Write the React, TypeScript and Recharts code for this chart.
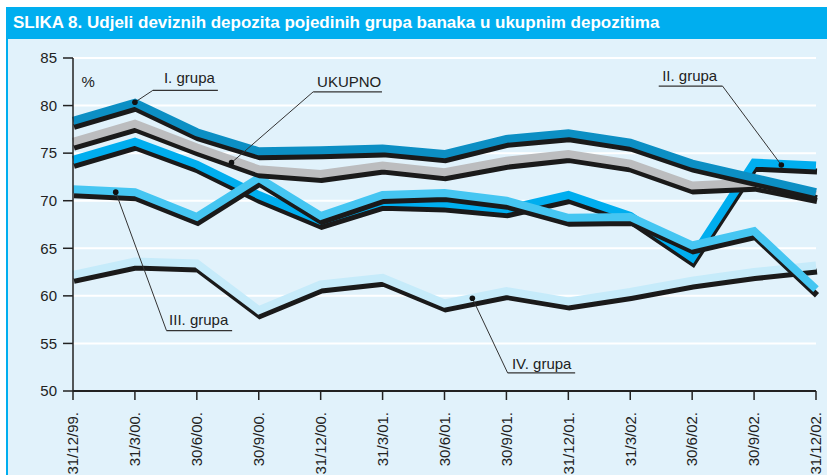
import { LineChart, Line, XAxis, YAxis, CartesianGrid, ReferenceDot, ReferenceLine } from "recharts";

const dates = ["31/12/99.", "31/3/00.", "30/6/00.", "30/9/00.", "31/12/00.", "31/3/01.", "30/6/01.", "30/9/01.", "31/12/01.", "31/3/02.", "30/6/02.", "30/9/02.", "31/12/02."];

const grupa1 = [78.4, 80.3, 77.2, 75.2, 75.3, 75.5, 74.9, 76.5, 77.1, 76.1, 73.9, 72.4, 70.9];
const ukupno = [76.2, 78.1, 75.6, 73.3, 72.8, 73.7, 73.0, 74.2, 74.9, 73.9, 71.6, 71.9, 70.6];
const grupa2 = [74.3, 76.2, 73.8, 70.6, 67.9, 69.9, 69.7, 69.1, 70.6, 68.4, 64.0, 74.0, 73.7];
const grupa3 = [71.2, 70.9, 68.3, 72.4, 68.4, 70.6, 70.8, 70.0, 68.2, 68.3, 65.3, 66.8, 60.7];
const grupa4 = [62.2, 63.6, 63.4, 58.5, 61.2, 61.9, 59.2, 60.5, 59.4, 60.4, 61.6, 62.5, 63.2];

const yTicks = [50, 55, 60, 65, 70, 75, 80, 85];
const xTicks = dates.map((_, i) => i);

// annotation callouts, in data coordinates (x = period index)
const notes = [
  { text: "I. grupa", dot: [1.0, 80.35], elbow: [1.29, 81.6], lineEnd: 2.34, label: [1.88, 82.9] },
  { text: "UKUPNO", dot: [2.56, 74.0], elbow: [3.88, 81.45], lineEnd: 4.99, label: [4.46, 82.55] },
  { text: "II. grupa", dot: [11.44, 73.75], elbow: [10.49, 82.05], lineEnd: 9.46, label: [9.96, 83.15] },
  { text: "III. grupa", dot: [0.69, 70.9], elbow: [1.51, 56.35], lineEnd: 2.57, label: [2.03, 57.5] },
  { text: "IV. grupa", dot: [6.45, 59.75], elbow: [7.02, 51.9], lineEnd: 8.11, label: [7.57, 52.85] },
];

const series = [
  { key: "g4", color: "#c6ebfa" },
  { key: "g2", color: "#00aeef" },
  { key: "g3", color: "#45c6f2" },
  { key: "uk", color: "#bcbdbf" },
  { key: "g1", color: "#0c8fc4" },
];

const data = dates.map((d, i) => ({
  i,
  g1: grupa1[i],
  uk: ukupno[i],
  g2: grupa2[i],
  g3: grupa3[i],
  g4: grupa4[i],
}));

const font = "'Liberation Sans', Arial, Helvetica, sans-serif";

function DateTick({ x, y, payload }: any) {
  return (
    <text
      x={x}
      y={y}
      transform={`rotate(-90 ${x} ${y})`}
      textAnchor="end"
      dy="0.35em"
      fontSize={15}
      fontFamily={font}
      fill="#222"
    >
      {dates[payload.value]}
    </text>
  );
}

export default function App() {
  return (
    <div style={{ position: "relative", width: 827, height: 475, background: "#fff", overflow: "hidden" }}>
      <style>{`body{margin:0} .shadow-line{transform:translate(1px,6px)}`}</style>
      <div style={{ position: "absolute", left: 6, top: 7, right: 0, bottom: 0, background: "#e1f2fb", borderLeft: "2px solid #00aeef" }} />
      <div
        style={{
          position: "absolute",
          left: 6,
          top: 7,
          right: 0,
          height: 32,
          background: "#00aeef",
          color: "#fff",
          fontFamily: "'Liberation Sans Narrow', 'Liberation Sans', Arial, sans-serif",
          fontWeight: "bold",
          fontSize: 17,
          lineHeight: "32px",
          paddingLeft: 7,
          whiteSpace: "nowrap",
        }}
      >
        SLIKA 8. Udjeli deviznih depozita pojedinih grupa banaka u ukupnim depozitima
      </div>
      <div style={{ position: "absolute", left: 0, top: 0 }}>
        <LineChart width={827} height={475} data={data} margin={{ top: 58, right: 11, bottom: 0, left: 13 }}>
          <CartesianGrid horizontal vertical={false} stroke="#ffffff" strokeWidth={2} />
          <XAxis
            type="number"
            dataKey="i"
            domain={[0, 12]}
            ticks={xTicks}
            interval={0}
            height={84}
            tickSize={9}
            tickMargin={12}
            tick={<DateTick />}
            axisLine={{ stroke: "#222", strokeWidth: 2 }}
            tickLine={{ stroke: "#222", strokeWidth: 1.5 }}
          />
          <YAxis
            domain={[50, 85]}
            ticks={yTicks}
            width={60}
            tickSize={10}
            tickMargin={6}
            tick={{ fontSize: 15, fill: "#222", fontFamily: font }}
            axisLine={{ stroke: "#222", strokeWidth: 1.5 }}
            tickLine={{ stroke: "#222", strokeWidth: 1.5 }}
          />
          {series.flatMap((s) => [
            <Line
              key={s.key + "-shadow"}
              className="shadow-line"
              dataKey={s.key}
              stroke="#1a1a1a"
              strokeWidth={6}
              dot={false}
              activeDot={false}
              isAnimationActive={false}
            />,
            <Line
              key={s.key}
              dataKey={s.key}
              stroke={s.color}
              strokeWidth={8}
              dot={false}
              activeDot={false}
              isAnimationActive={false}
            />,
          ])}
          {notes.flatMap((n) => [
            <ReferenceLine
              key={n.text + "-lead"}
              segment={[{ x: n.dot[0], y: n.dot[1] }, { x: n.elbow[0], y: n.elbow[1] }]}
              stroke="#333"
              strokeWidth={1}
            />,
            <ReferenceLine
              key={n.text + "-under"}
              segment={[{ x: n.elbow[0], y: n.elbow[1] }, { x: n.lineEnd, y: n.elbow[1] }]}
              stroke="#333"
              strokeWidth={1.2}
            />,
            <ReferenceDot key={n.text + "-dot"} x={n.dot[0]} y={n.dot[1]} r={2.8} fill="#111" stroke="none" />,
            <ReferenceDot
              key={n.text + "-label"}
              x={n.label[0]}
              y={n.label[1]}
              r={0}
              stroke="none"
              fill="none"
              label={{ value: n.text, position: "center", fill: "#222", fontSize: 15, fontFamily: font }}
            />,
          ])}
          <ReferenceDot
            x={0.247}
            y={82.55}
            r={0}
            stroke="none"
            fill="none"
            label={{ value: "%", position: "center", fill: "#222", fontSize: 15, fontFamily: font }}
          />
        </LineChart>
      </div>
    </div>
  );
}
